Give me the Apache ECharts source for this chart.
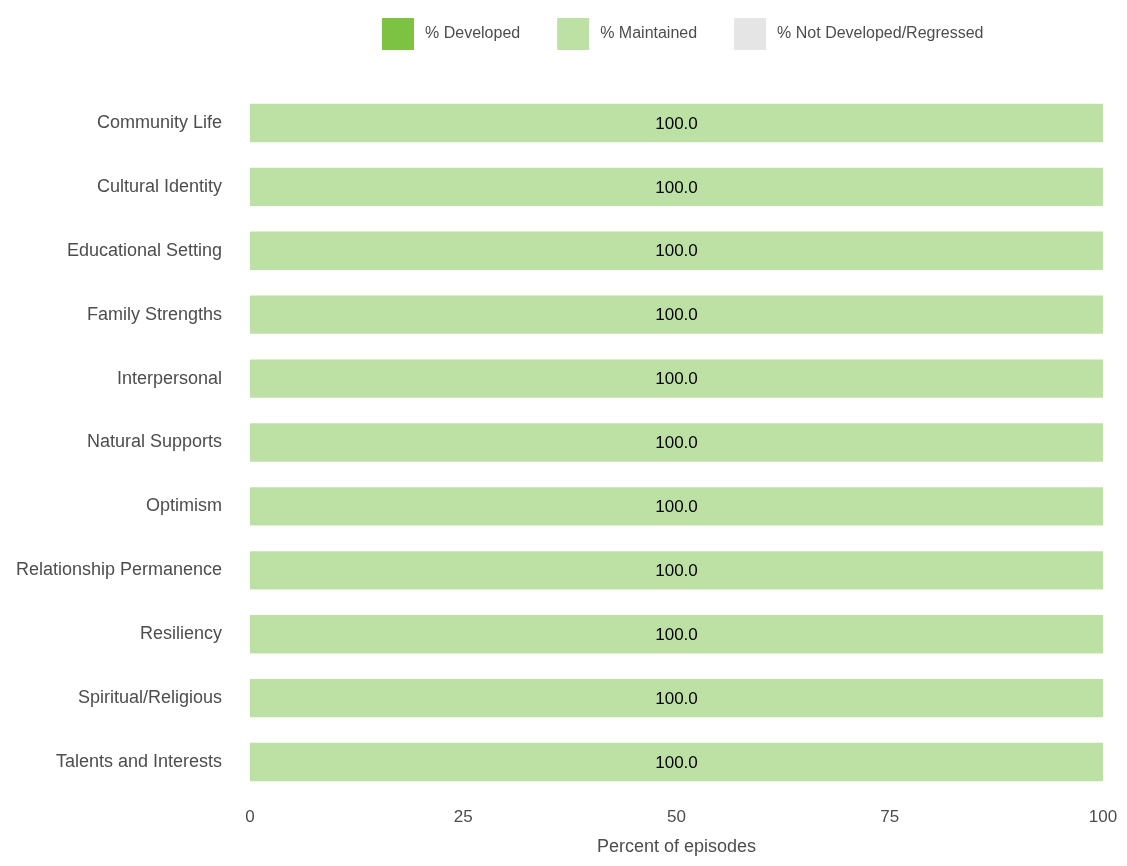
<!DOCTYPE html>
<html>
<head>
<meta charset="utf-8">
<script src="https://cdn.jsdelivr.net/npm/echarts@6/dist/echarts.min.js"></script>
<style>html,body{margin:0;padding:0;background:#fff}#c{width:1127px;height:866px}</style>
</head>
<body>
<div id="c"></div>
<script>
const categories = ["Community Life","Cultural Identity","Educational Setting","Family Strengths","Interpersonal","Natural Supports","Optimism","Relationship Permanence","Resiliency","Spiritual/Religious","Talents and Interests"];
const developed = [0,0,0,0,0,0,0,0,0,0,0];
const maintained = [100,100,100,100,100,100,100,100,100,100,100];
const notDeveloped = [0,0,0,0,0,0,0,0,0,0,0];
const xTicks = [0,25,50,75,100];

const font = 'Liberation Sans, Arial, sans-serif';
const lbl = {show:true, position:'inside', color:'#000', fontSize:17, fontFamily:font, offset:[0,1],
  formatter: p => p.value > 0 ? p.value.toFixed(1) : ''};
const chart = echarts.init(document.getElementById('c'));
chart.setOption({
  animation:false,
  textStyle:{fontFamily:font},
  legend:{
    top:18, left:382, padding:0, itemWidth:32, itemHeight:32, itemGap:37,
    textStyle:{fontSize:16, color:'#4d4d4d', fontFamily:font, padding:[0,0,0,6]},
    icon:'rect',
    data:['% Developed','% Maintained','% Not Developed/Regressed']
  },
  grid:{left:250, right:24, top:91, bottom:72},
  xAxis:{
    type:'value', min:0, max:100, interval:25,
    name:'Percent of episodes', nameLocation:'middle', nameGap:44,
    nameTextStyle:{fontSize:18, color:'#4d4d4d', fontFamily:font},
    axisLine:{show:false}, axisTick:{show:false}, splitLine:{show:false},
    axisLabel:{fontSize:17, color:'#4d4d4d', margin:15, fontFamily:font,
      formatter: v => xTicks.includes(v) ? String(v) : ''}
  },
  yAxis:{
    type:'category', data:categories, inverse:true,
    axisLine:{show:false}, axisTick:{show:false}, splitLine:{show:false},
    axisLabel:{fontSize:18, color:'#4d4d4d', margin:28, fontFamily:font, padding:[2,0,0,0]}
  },
  series:[
    {name:'% Developed', type:'bar', stack:'t', data:developed, barWidth:'60%', itemStyle:{color:'#7dc242'}, label:lbl},
    {name:'% Maintained', type:'bar', stack:'t', data:maintained, barWidth:'60%', itemStyle:{color:'#bde0a5'}, label:lbl},
    {name:'% Not Developed/Regressed', type:'bar', stack:'t', data:notDeveloped, barWidth:'60%', itemStyle:{color:'#e5e5e5'}, label:lbl}
  ]
});
</script>
</body>
</html>
